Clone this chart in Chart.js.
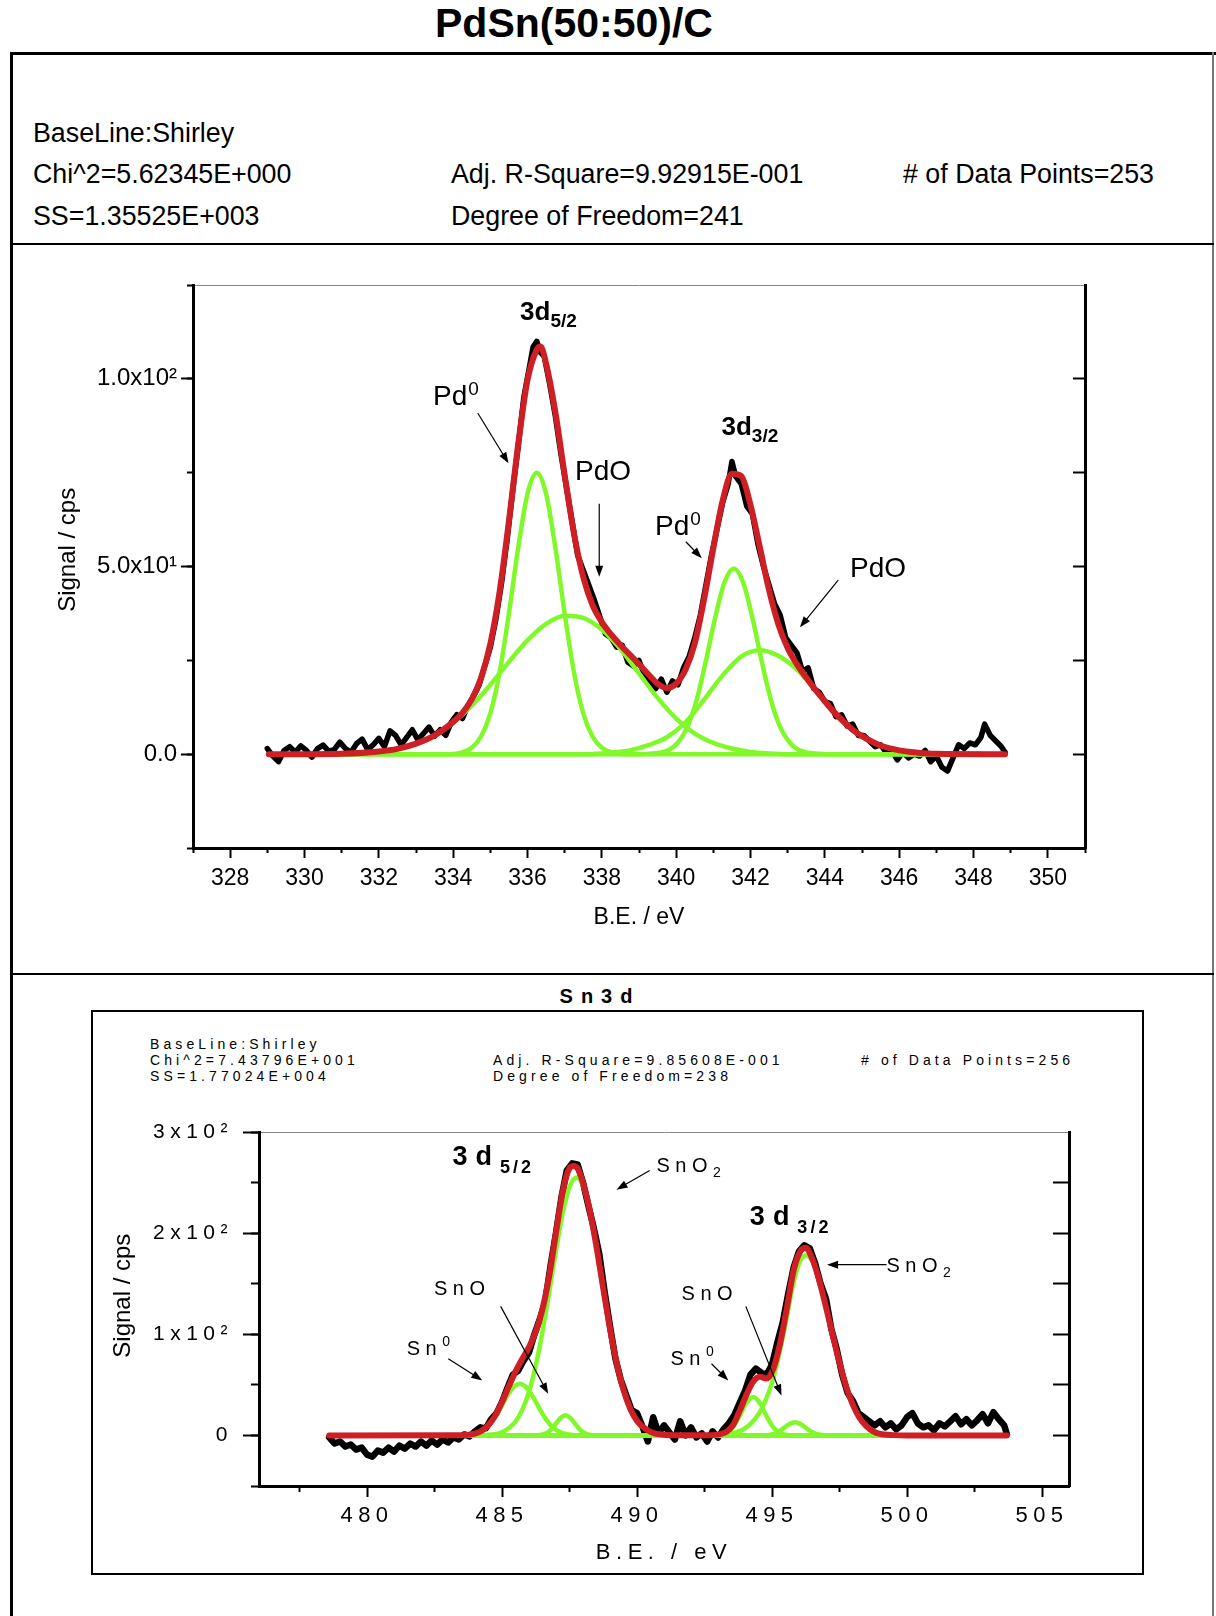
<!DOCTYPE html>
<html>
<head>
<meta charset="utf-8">
<script src="https://cdn.jsdelivr.net/npm/chart.js@4.4.0/dist/chart.umd.min.js"></script>
<style>
  html, body { margin: 0; padding: 0; background: #fff; }
  body { width: 1216px; height: 1616px; position: relative; overflow: hidden;
         font-family: "Liberation Sans", Arial, sans-serif; color: #000; }
  .txt { position: absolute; white-space: nowrap; }
  .big { font-size: 26.8px; line-height: 30px; }
  .small { font-size: 14px; line-height: 16px; letter-spacing: 4.1px; }
  .rule { position: absolute; background: #000; }
  canvas { position: absolute; left: 0; }
</style>
</head>
<body>
<div class="txt" style="left:0;width:1148px;top:0;text-align:center;font-weight:bold;font-size:41px;line-height:46px;">PdSn(50:50)/C</div>

<!-- page frame -->
<div class="rule" style="left:10px;top:52px;width:1206px;height:3px;"></div>
<div class="rule" style="left:10px;top:52px;width:3px;height:1564px;"></div>
<div class="rule" style="left:1212px;top:52px;width:2px;height:1564px;background:#777;"></div>
<div class="rule" style="left:10px;top:243px;width:1204px;height:2px;"></div>
<div class="rule" style="left:10px;top:973px;width:1204px;height:2px;"></div>

<div class="txt big" style="left:33px;top:118px;">BaseLine:Shirley</div>
<div class="txt big" style="left:33px;top:159px;">Chi^2=5.62345E+000</div>
<div class="txt big" style="left:33px;top:201px;">SS=1.35525E+003</div>
<div class="txt big" style="left:451px;top:159px;">Adj. R-Square=9.92915E-001</div>
<div class="txt big" style="left:451px;top:201px;">Degree of Freedom=241</div>
<div class="txt big" style="left:903px;top:159px;">&#35; of Data Points=253</div>

<div class="txt" style="left:0;width:1200px;top:984px;text-align:center;font-weight:bold;font-size:20px;line-height:24px;letter-spacing:8px;">Sn3d</div>
<div style="position:absolute;left:91px;top:1010px;width:1049px;height:561px;border:2px solid #000;"></div>
<div class="txt small" style="left:150px;top:1036px;">BaseLine:Shirley</div>
<div class="txt small" style="left:150px;top:1052px;">Chi^2=7.43796E+001</div>
<div class="txt small" style="left:150px;top:1068px;">SS=1.77024E+004</div>
<div class="txt small" style="left:493px;top:1052px;">Adj. R-Square=9.85608E-001</div>
<div class="txt small" style="left:493px;top:1068px;">Degree of Freedom=238</div>
<div class="txt small" style="left:861px;top:1052px;">&#35; of Data Points=256</div>

<canvas id="pd" width="1216" height="720" style="top:250px;"></canvas>
<canvas id="sn" width="1216" height="500" style="top:1100px;"></canvas>

<script>
// ---------- Pd 3d ----------
const pdDataX = [329.0,329.15,329.3,329.45,329.6,329.75,329.9,330.05,330.2,330.35,330.5,330.65,330.8,330.95,331.1,331.25,331.4,331.55,331.7,331.85,332.0,332.15,332.3,332.45,332.6,332.75,332.9,333.05,333.2,333.35,333.5,333.65,333.8,333.95,334.1,334.25,334.4,334.55,334.7,334.85,335.0,335.15,335.3,335.45,335.6,335.75,335.9,336.05,336.15,336.25,336.35,336.45,336.6,336.75,336.9,337.05,337.2,337.35,337.5,337.65,337.8,337.95,338.1,338.25,338.4,338.55,338.7,338.85,339.0,339.15,339.3,339.45,339.6,339.75,339.9,340.05,340.2,340.35,340.5,340.65,340.8,340.95,341.1,341.25,341.4,341.5,341.6,341.75,341.9,342.05,342.2,342.35,342.5,342.65,342.8,342.95,343.1,343.25,343.4,343.55,343.7,343.85,344.0,344.15,344.3,344.45,344.6,344.75,344.9,345.05,345.2,345.35,345.5,345.65,345.8,345.95,346.1,346.25,346.4,346.55,346.7,346.85,347.0,347.15,347.3,347.45,347.6,347.75,347.9,348.05,348.2,348.3,348.45,348.6,348.75,348.85];
const pdDataY = [1.5,-0.5,-2.0,1.0,2.0,0.5,2.2,1.0,-0.8,1.5,2.4,0.8,1.2,3.2,1.5,0.5,2.8,4.0,1.2,2.5,4.2,2.0,6.2,5.0,2.5,4.5,6.5,3.8,5.5,7.2,4.8,6.5,5.0,8.5,10.5,9.5,13.0,15.5,18.5,23.5,28.5,36,45.5,57,70,82,95,103,108.5,110,107,106,98.5,90,80,71,62,53,49,45,41,36.5,32,31,28.5,29,24.5,23.5,25,21,19.5,17.5,20,16.5,19.5,18.5,23,26,31,37,45,53,60,67,72,78,74,72,66,64,56,50,45,40,37,31,29,27,22,23,17.5,16.5,14,13.5,10,10.5,7.5,8,5,5,3.5,2,2.5,0.5,1,-1.5,0.5,-1,0,-0.5,1,-2,-0.5,-3.5,-4.5,-1,2.5,1.5,3,2.5,4.5,8,5,3.5,2,0.5];

const pdFitX = [329.04,330.0,331.0,332.0,332.5,333.0,333.5,334.0,334.25,334.5,334.75,335.0,335.25,335.5,335.75,336.0,336.25,336.35,336.5,336.75,337.0,337.25,337.5,337.75,338.0,338.25,338.5,339.0,339.25,339.5,339.75,340.0,340.25,340.5,340.75,341.0,341.25,341.5,341.75,342.0,342.25,342.5,342.75,343.0,343.25,343.5,343.75,344.0,344.25,344.5,344.75,345.0,345.5,346.0,346.5,347.0,348.85];
const pdFitY = [0,0,0.1,0.7,1.4,2.8,5.0,8.6,11.0,14.6,20.3,29.4,43.3,62.1,82.6,99.7,107.8,108.6,104.1,91.1,74.4,58.8,47.2,39.7,35.2,31.9,29.1,24.0,21.3,18.8,17.6,18.8,22.5,29.5,41.2,54.9,67.5,74.7,74.1,66.4,55.2,43.7,34.6,28.3,23.9,20.4,17.1,14.1,11.2,8.7,6.5,4.8,2.3,1.0,0.4,0.1,0];

const pd0aX = [329.04,333.9,334.25,334.5,334.75,335.0,335.25,335.5,335.75,336.0,336.25,336.5,336.75,337.0,337.25,337.5,337.75,338.0,338.25,338.6,348.85];
const pd0aY = [0,0,0.5,1.7,4.7,10.9,21.8,37.5,55,69.4,75,69.4,55,37.5,21.8,10.9,4.7,1.7,0.5,0,0];
const pdOaX = [329.04,330.5,331.0,331.5,332.0,332.5,333.0,333.5,334.0,334.5,335.0,335.5,336.0,336.5,337.0,337.5,338.0,338.5,339.0,339.5,340.0,340.5,341.0,341.5,342.0,342.5,343.0,348.85];
const pdOaY = [0,0,0.1,0.3,0.7,1.4,2.8,5.0,8.4,12.9,18.5,24.6,30.3,34.7,36.9,36.3,33.2,28.0,21.5,15.0,9.5,5.5,3.0,1.5,0.6,0.2,0,0];
const pd0bX = [329.04,339.0,339.3,339.55,339.8,340.05,340.3,340.55,340.8,341.05,341.3,341.55,341.8,342.05,342.3,342.55,342.8,343.05,343.3,343.55,343.8,344.1,348.85];
const pd0bY = [0,0,0.1,0.4,1.1,3.1,7.2,14.4,24.8,36.4,45.8,49.5,45.8,36.4,24.8,14.4,7.2,3.1,1.1,0.4,0.1,0,0];
const pdObX = [329.04,337.5,338.25,338.75,339.25,339.75,340.25,340.75,341.25,341.75,342.25,342.75,343.25,343.75,344.25,344.75,345.25,345.75,346.25,346.75,347.3,348.85];
const pdObY = [0,0,0.4,1.0,2.4,4.5,8.5,14.5,21.0,26.0,27.7,26.2,22.5,17.0,11.2,6.5,3.3,1.5,0.6,0.2,0,0];

const pdXMajor = [328,330,332,334,336,338,340,342,344,346,348,350];
const pdXMinor = [327,329,331,333,335,337,339,341,343,345,347,349,351];
const pdYMajor = [0,50,100];
const pdYLabels = ['0.0','5.0x10\u00B9','1.0x10\u00B2'];
const pdYMinor = [-25,0,25,50,75,100,125];
const pdYRight = [0,25,50,75,100];

// ---------- Sn 3d ----------
const snDataX = [478.6,478.8,479.0,479.2,479.4,479.6,479.8,480.0,480.2,480.4,480.6,480.8,481.0,481.2,481.4,481.6,481.8,482.0,482.2,482.4,482.6,482.8,483.0,483.2,483.4,483.6,483.8,484.0,484.2,484.4,484.6,484.8,485.0,485.2,485.4,485.6,485.8,486.0,486.2,486.4,486.6,486.8,487.0,487.2,487.4,487.6,487.8,488.0,488.2,488.4,488.6,488.8,489.0,489.2,489.4,489.6,489.8,490.0,490.2,490.4,490.6,490.8,491.0,491.2,491.4,491.6,491.8,492.0,492.2,492.4,492.6,492.8,493.0,493.2,493.4,493.6,493.8,494.0,494.2,494.4,494.6,494.8,495.0,495.2,495.4,495.6,495.8,496.0,496.2,496.4,496.6,496.8,497.0,497.2,497.4,497.6,497.8,498.0,498.2,498.4,498.6,498.8,499.0,499.2,499.4,499.6,499.8,500.0,500.2,500.4,500.6,500.8,501.0,501.2,501.4,501.6,501.8,502.0,502.2,502.4,502.6,502.8,503.0,503.2,503.4,503.6,503.7];
const snDataY = [-2,-8,-6,-11,-9,-14,-12,-19,-21,-15,-17,-12,-16,-10,-13,-8,-11,-6,-10,-5,-9,-4,-7,-2,-4,1,-1,4,8,7,16,22,33,47,60,64,74,82,100,115,132,168,200,235,262,269,268,250,227,205,180,142,108,76,55,40,25,22,9,-6,18,2,10,3,-4,14,0,8,-2,2,-6,4,-2,6,12,20,32,44,60,66,62,60,70,92,112,140,166,182,188,185,170,150,135,105,85,60,42,34,22,18,14,10,14,8,12,6,10,18,22,12,8,10,5,12,9,14,19,11,16,10,15,21,12,23,16,10,1];

const snFitX = [478.6,483.5,483.75,484.0,484.25,484.5,484.75,485.0,485.25,485.5,485.75,486.0,486.25,486.5,486.75,487.0,487.25,487.5,487.65,487.8,488.0,488.25,488.5,488.75,489.0,489.25,489.5,489.75,490.0,490.5,491.0,491.5,492.5,493.0,493.3,493.55,493.8,494.05,494.3,494.55,494.8,495.05,495.3,495.55,495.8,496.05,496.25,496.5,496.75,497.0,497.25,497.5,497.75,498.0,498.25,498.5,498.75,499.0,499.5,500.0,503.7];
const snFitY = [0,0.2,0.6,1.7,4.7,10.3,19.8,33.0,48.4,63.1,75.7,87.3,102.4,125,158,200.4,241.3,264.3,266.5,264,249.8,222.8,186.5,145.4,105.7,71.4,45,26.4,14.4,3.5,0.6,0.1,0.1,0.8,3.4,10,24,40,53,58,56.3,66,91,126,163,182,185.5,174,153.3,127,99,72,48,30,17,9,4,1.5,0.3,0,0];

const snO2aX = [478.6,484.0,484.5,485.0,485.5,485.75,486.0,486.25,486.5,486.75,487.0,487.25,487.5,487.76,488.0,488.25,488.5,488.75,489.0,489.25,489.5,489.75,490.0,490.5,491.0,491.5,503.7];
const snO2aY = [0,0,0.6,3.2,13.7,25.2,43.1,69.1,102.7,142,183,219.8,245.4,255,246.6,222.2,186.4,145.4,105.7,71.4,45,26.4,14.4,3.5,0.6,0,0];
const sn0aX = [478.6,483.5,483.91,484.16,484.41,484.66,484.91,485.16,485.41,485.66,485.91,486.16,486.41,486.66,486.91,487.16,487.41,487.8,503.7];
const sn0aY = [0,0,1.2,3.2,7.4,14.9,25.5,37.5,47.2,51,47.2,37.5,25.5,14.9,7.4,3.2,1.2,0,0];
const snOaX = [478.6,486.0,486.35,486.55,486.75,486.95,487.15,487.35,487.55,487.75,487.95,488.15,488.35,488.7,503.7];
const snOaY = [0,0,0.3,1.2,4.2,10,16.8,20,16.8,10,4.2,1.2,0.3,0,0];
const snO2bX = [478.6,492.5,493.0,493.5,494.0,494.5,494.75,495.0,495.25,495.5,495.75,496.0,496.25,496.5,496.75,497.0,497.25,497.5,497.75,498.0,498.25,498.5,498.75,499.0,499.5,500.0,503.7];
const snO2bY = [0,0,0.5,2,7,21,34,52,78,110,145,170,178,172,153,127,99,72,48,30,17,9,4,1.5,0.3,0,0];
const sn0bX = [478.6,492.6,493.05,493.3,493.55,493.8,494.05,494.3,494.55,494.8,495.05,495.3,495.55,496.0,503.7];
const sn0bY = [0,0,0.5,2.4,8,19,32,38,32,19,8,2.4,0.5,0,0];
const snObX = [478.6,494.7,495.1,495.35,495.6,495.85,496.1,496.35,496.6,496.85,497.2,503.7];
const snObY = [0,0,1.9,5.5,10.5,13,10.5,5.5,1.9,0.4,0,0];

const snXMajor = [480,485,490,495,500,505];
const snXMinor = [477.5,482.5,487.5,492.5,497.5,502.5];
const snYMajor = [0,100,200,300];
const snYLabels = ['0','1x10\u00B2','2x10\u00B2','3x10\u00B2'];
const snYMinor = [-50,0,50,100,150,200,250,300];
const snYRight = [0,50,100,150,200,250];

// ---------- drawing ----------
const FONT = '"Liberation Sans", Arial, sans-serif';
const RED = '#cd1f24';
const GREEN = '#80f82a';
const pts = (xs, ys) => xs.map((x, i) => ({ x, y: ys[i] }));
const setTicks = (vals) => (s) => { s.ticks = vals.map(v => ({ value: v })); };

function dataLine(xs, ys, w) {
  return { data: pts(xs, ys), borderColor: '#000', borderWidth: w, pointRadius: 0,
           tension: 0, borderJoinStyle: 'round', borderCapStyle: 'round', order: 3 };
}
function fitLine(xs, ys) {
  return { data: pts(xs, ys), borderColor: RED, borderWidth: 6, pointRadius: 0,
           cubicInterpolationMode: 'monotone', borderJoinStyle: 'round', borderCapStyle: 'round', order: 1 };
}
function compLine(xs, ys) {
  return { data: pts(xs, ys), borderColor: GREEN, borderWidth: 4.5, pointRadius: 0,
           cubicInterpolationMode: 'monotone', borderJoinStyle: 'round', borderCapStyle: 'round', order: 2 };
}

function arrow(ctx, x1, y1, x2, y2) {
  const a = Math.atan2(y2 - y1, x2 - x1), L = 11, W = 4;
  const c = Math.cos(a), s = Math.sin(a);
  ctx.beginPath();
  ctx.moveTo(x1, y1);
  ctx.lineTo(x2 - L * 0.7 * c, y2 - L * 0.7 * s);
  ctx.stroke();
  ctx.beginPath();
  ctx.moveTo(x2, y2);
  ctx.lineTo(x2 - L * c + W * s, y2 - L * s - W * c);
  ctx.lineTo(x2 - L * c - W * s, y2 - L * s + W * c);
  ctx.closePath();
  ctx.fill();
}

const notesPlugin = {
  id: 'notes',
  afterDatasetsDraw(chart, args, opts) {
    const { ctx } = chart;
    const xs = chart.scales.x, ys = chart.scales.y;
    ctx.save();
    ctx.fillStyle = '#000';
    ctx.strokeStyle = '#000';
    ctx.lineWidth = 1.2;
    ctx.textAlign = 'left';
    ctx.textBaseline = 'alphabetic';
    for (const t of opts.labels || []) {
      let px = xs.getPixelForValue(t.x);
      const py = ys.getPixelForValue(t.y);
      ctx.letterSpacing = (t.spacing || 0) + 'px';
      ctx.font = (t.bold ? 'bold ' : '') + t.size + 'px ' + FONT;
      ctx.fillText(t.text, px, py);
      px += ctx.measureText(t.text).width;
      if (t.small) {
        ctx.letterSpacing = (t.smallSpacing || 0) + 'px';
        ctx.font = (t.bold ? 'bold ' : '') + t.smallSize + 'px ' + FONT;
        ctx.fillText(t.small, px + (t.smallDx || 0), py + t.smallDy);
      }
    }
    for (const a of opts.arrows || []) {
      arrow(ctx, xs.getPixelForValue(a[0]), ys.getPixelForValue(a[1]),
                 xs.getPixelForValue(a[2]), ys.getPixelForValue(a[3]));
    }
    ctx.restore();
    // axis title of the y scale is drawn after this point; it has no letter spacing
    if (opts.resetSpacing) ctx.letterSpacing = '0px';
  },
  beforeDraw(chart, args, opts) {
    chart.ctx.letterSpacing = (opts.axisSpacing || 0) + 'px';
  }
};

// ---------- top chart ----------
new Chart(document.getElementById('pd'), {
  type: 'line',
  data: {
    datasets: [
      dataLine(pdDataX, pdDataY, 5.5),
      compLine(pd0aX, pd0aY),
      compLine(pdOaX, pdOaY),
      compLine(pd0bX, pd0bY),
      compLine(pdObX, pdObY),
      fitLine(pdFitX, pdFitY)
    ]
  },
  options: {
    responsive: false,
    animation: false,
    layout: { padding: { top: 35, left: 0, right: 0, bottom: 0 } },
    plugins: {
      legend: { display: false },
      tooltip: { enabled: false },
      notes: {
        axisSpacing: 0,
        labels: [
          { x: 335.8, y: 115.7, text: '3d', size: 26, bold: true, small: '5/2', smallSize: 19, smallDy: 7 },
          { x: 341.22, y: 85.1, text: '3d', size: 26, bold: true, small: '3/2', smallSize: 19, smallDy: 7 },
          { x: 333.46, y: 93.1, text: 'Pd', size: 28, small: '0', smallSize: 19, smallDy: -10, smallDx: 1 },
          { x: 337.28, y: 73.1, text: 'PdO', size: 28 },
          { x: 339.43, y: 58.4, text: 'Pd', size: 28, small: '0', smallSize: 19, smallDy: -10, smallDx: 1 },
          { x: 344.68, y: 47.2, text: 'PdO', size: 28 }
        ],
        arrows: [
          [334.66, 90.9, 335.49, 77.5],
          [337.93, 66.7, 337.93, 47.3],
          [340.26, 56.6, 340.69, 52.2],
          [344.36, 46.4, 343.33, 33.8]
        ]
      }
    },
    scales: {
      x: {
        type: 'linear', position: 'bottom', min: 327, max: 351, weight: 1,
        afterBuildTicks: setTicks(pdXMajor),
        afterFit: (s) => { s.height = 122; },
        ticks: { color: '#000', padding: 7, font: { family: FONT, size: 23 }, callback: (v) => String(v), maxRotation: 0, autoSkip: false },
        grid: { drawOnChartArea: false, tickLength: 10, tickWidth: 2, tickColor: '#000' },
        border: { display: true, color: '#000', width: 3 },
        title: { display: true, text: 'B.E. / eV', color: '#000', font: { family: FONT, size: 23 }, padding: { top: 0, bottom: 39 } }
      },
      xMinor: {
        type: 'linear', position: 'bottom', min: 327, max: 351, weight: 0,
        afterBuildTicks: setTicks(pdXMinor),
        afterFit: (s) => { s.height = 0; },
        ticks: { display: false },
        grid: { drawOnChartArea: false, tickLength: 5, tickWidth: 2, tickColor: '#000' },
        border: { display: false }
      },
      xTop: {
        type: 'linear', position: 'top', min: 327, max: 351,
        afterFit: (s) => { s.height = 0; },
        ticks: { display: false },
        grid: { drawOnChartArea: false, drawTicks: false },
        border: { display: true, color: '#888', width: 1 }
      },
      y: {
        type: 'linear', position: 'left', min: -25, max: 125, weight: 1,
        afterBuildTicks: setTicks(pdYMajor),
        afterFit: (s) => { s.width = 193; },
        ticks: { color: '#000', padding: 4, font: { family: FONT, size: 24 }, callback: (v) => pdYLabels[pdYMajor.indexOf(v)], autoSkip: false },
        grid: { drawOnChartArea: false, tickLength: 12, tickWidth: 2, tickColor: '#000' },
        border: { display: true, color: '#000', width: 3 },
        title: { display: true, text: '     Signal / cps', color: '#000', font: { family: FONT, size: 24 }, padding: { top: 54, bottom: 0 } }
      },
      yMinor: {
        type: 'linear', position: 'left', min: -25, max: 125, weight: 0,
        afterBuildTicks: setTicks(pdYMinor),
        afterFit: (s) => { s.width = 0; },
        ticks: { display: false },
        grid: { drawOnChartArea: false, tickLength: 6, tickWidth: 2, tickColor: '#000' },
        border: { display: false }
      },
      yRight: {
        type: 'linear', position: 'right', min: -25, max: 125,
        afterBuildTicks: setTicks(pdYRight),
        afterFit: (s) => { s.width = 131; },
        ticks: { display: false },
        grid: { drawOnChartArea: false, tickLength: -12, tickWidth: 2, tickColor: '#000' },
        border: { display: true, color: '#000', width: 3 }
      }
    }
  },
  plugins: [notesPlugin]
});

// ---------- bottom chart ----------
new Chart(document.getElementById('sn'), {
  type: 'line',
  data: {
    datasets: [
      dataLine(snDataX, snDataY, 6.5),
      compLine(snO2aX, snO2aY),
      compLine(sn0aX, sn0aY),
      compLine(snOaX, snOaY),
      compLine(snO2bX, snO2bY),
      compLine(sn0bX, sn0bY),
      compLine(snObX, snObY),
      fitLine(snFitX, snFitY)
    ]
  },
  options: {
    responsive: false,
    animation: false,
    layout: { padding: { top: 32, left: 0, right: 0, bottom: 0 } },
    plugins: {
      legend: { display: false },
      tooltip: { enabled: false },
      notes: {
        axisSpacing: 5.5,
        resetSpacing: true,
        labels: [
          { x: 483.17, y: 267, text: '3d', size: 27, bold: true, spacing: 8, small: '5/2', smallSize: 18, smallSpacing: 3, smallDy: 8 },
          { x: 494.18, y: 207.7, text: '3d', size: 27, bold: true, spacing: 8, small: '3/2', smallSize: 18, smallSpacing: 3, smallDy: 8 },
          { x: 490.72, y: 260, text: 'SnO', size: 20, spacing: 5.5, small: '2', smallSize: 14, smallDy: 5 },
          { x: 499.24, y: 161.5, text: 'SnO', size: 20, spacing: 5.5, small: '2', smallSize: 14, smallDy: 5 },
          { x: 482.48, y: 138.5, text: 'SnO', size: 20, spacing: 5.5 },
          { x: 491.65, y: 133.5, text: 'SnO', size: 20, spacing: 5.5 },
          { x: 481.47, y: 79.1, text: 'Sn', size: 20, spacing: 5.5, small: '0', smallSize: 14, smallDy: -9 },
          { x: 491.24, y: 69.2, text: 'Sn', size: 20, spacing: 5.5, small: '0', smallSize: 14, smallDy: -9 }
        ],
        arrows: [
          [490.47, 262, 489.24, 243],
          [499.24, 168.8, 497.04, 168.8],
          [484.95, 127.6, 486.71, 41.2],
          [483.01, 75.9, 484.27, 54.4],
          [494.03, 127.6, 495.35, 39.6],
          [492.76, 70.9, 493.38, 54.4]
        ]
      }
    },
    scales: {
      x: {
        type: 'linear', position: 'bottom', min: 476, max: 506, weight: 1,
        afterBuildTicks: setTicks(snXMajor),
        afterFit: (s) => { s.height = 114; },
        ticks: { color: '#000', padding: 6, font: { family: FONT, size: 22 }, callback: (v) => String(v), maxRotation: 0, autoSkip: false },
        grid: { drawOnChartArea: false, tickLength: 11, tickWidth: 2, tickColor: '#000' },
        border: { display: true, color: '#000', width: 3 },
        title: { display: true, text: 'B.E. / eV', color: '#000', font: { family: FONT, size: 22 }, padding: { top: 0, bottom: 34 } }
      },
      xMinor: {
        type: 'linear', position: 'bottom', min: 476, max: 506, weight: 0,
        afterBuildTicks: setTicks(snXMinor),
        afterFit: (s) => { s.height = 0; },
        ticks: { display: false },
        grid: { drawOnChartArea: false, tickLength: 6, tickWidth: 2, tickColor: '#000' },
        border: { display: false }
      },
      xTop: {
        type: 'linear', position: 'top', min: 476, max: 506,
        afterFit: (s) => { s.height = 0; },
        ticks: { display: false },
        grid: { drawOnChartArea: false, drawTicks: false },
        border: { display: true, color: '#888', width: 1 }
      },
      y: {
        type: 'linear', position: 'left', min: -50, max: 300, weight: 1,
        afterBuildTicks: setTicks(snYMajor),
        afterFit: (s) => { s.width = 259; },
        ticks: { color: '#000', padding: 10, font: { family: FONT, size: 21 }, callback: (v) => snYLabels[snYMajor.indexOf(v)], autoSkip: false },
        grid: { z: 1, drawOnChartArea: false, tickLength: 16, tickWidth: 2, tickColor: '#000' },
        border: { z: 1, display: true, color: '#000', width: 3 },
        title: { display: true, text: '    Signal / cps', color: '#000', font: { family: FONT, size: 24 }, padding: { top: 109, bottom: 0 } }
      },
      yMinor: {
        type: 'linear', position: 'left', min: -50, max: 300, weight: 0,
        afterBuildTicks: setTicks(snYMinor),
        afterFit: (s) => { s.width = 0; },
        ticks: { display: false },
        grid: { drawOnChartArea: false, tickLength: 8, tickWidth: 2, tickColor: '#000' },
        border: { display: false }
      },
      yRight: {
        type: 'linear', position: 'right', min: -50, max: 300,
        afterBuildTicks: setTicks(snYRight),
        afterFit: (s) => { s.width = 147; },
        ticks: { display: false },
        grid: { drawOnChartArea: false, tickLength: -16, tickWidth: 2, tickColor: '#000' },
        border: { display: true, color: '#000', width: 3 }
      }
    }
  },
  plugins: [notesPlugin]
});
</script>
</body>
</html>
